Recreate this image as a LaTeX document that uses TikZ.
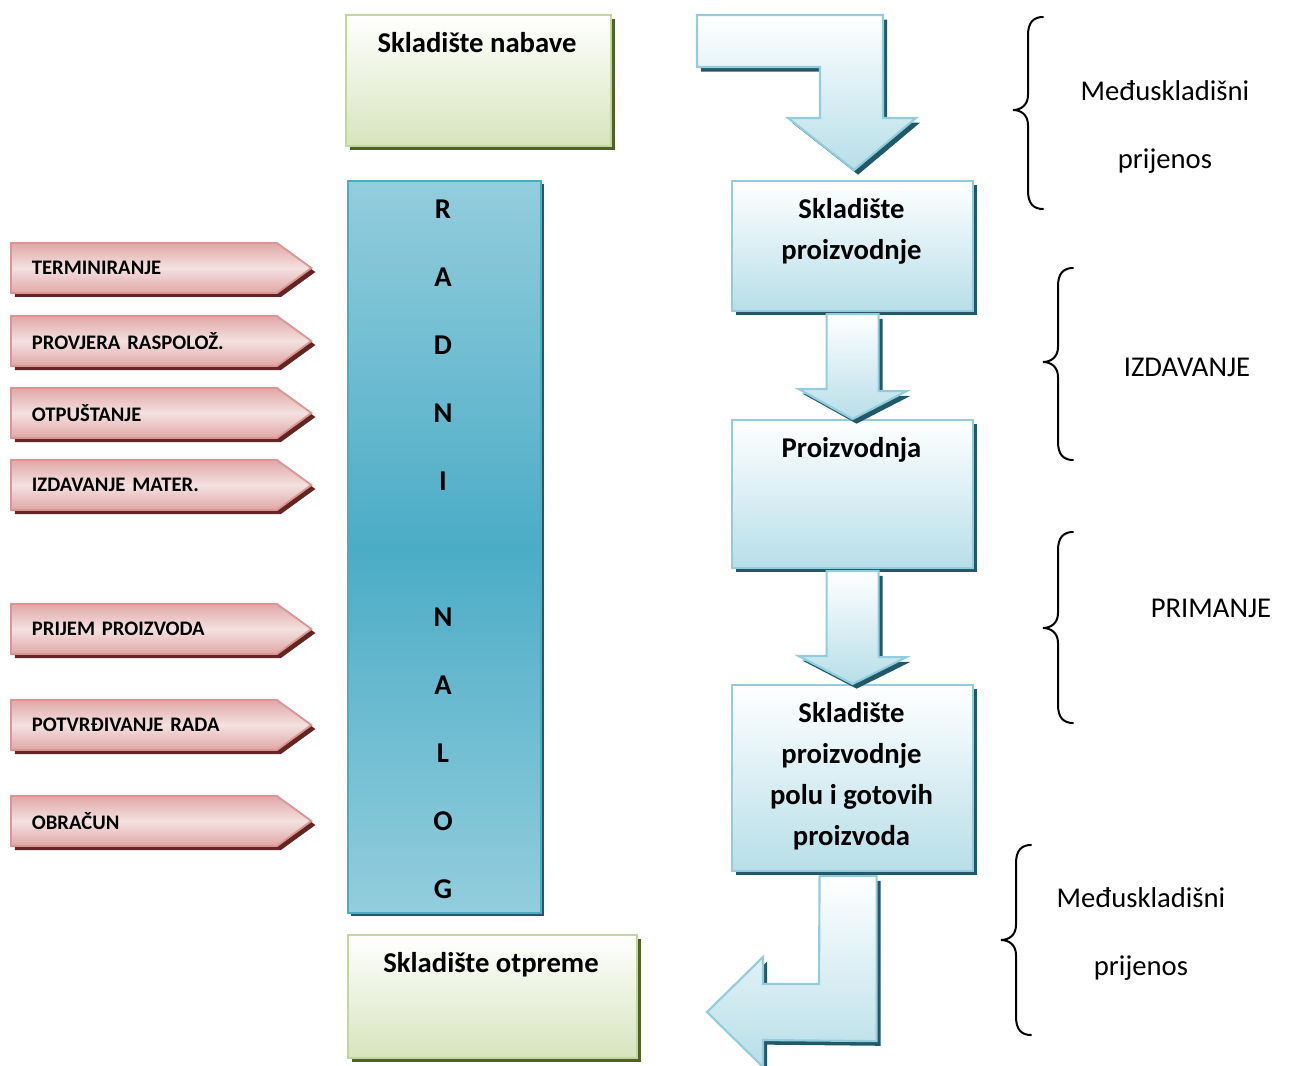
\documentclass[tikz,border=0pt]{standalone}
\usepackage{fontspec}
\setmainfont{Carlito}
\usetikzlibrary{shapes.symbols,shadows}
\definecolor{gborder}{HTML}{C3D69B}
\definecolor{gfill}{HTML}{D7E4BD}
\definecolor{gshadow}{HTML}{4F6228}
\definecolor{bborder}{HTML}{93CDDD}
\definecolor{bfill}{HTML}{B7DEE8}
\definecolor{bshadow}{HTML}{215968}
\definecolor{rnmid}{HTML}{4BACC6}
\definecolor{rntop}{HTML}{93CDDD}
\definecolor{pborder}{HTML}{D99694}
\definecolor{ptop}{HTML}{E0A7A6}
\definecolor{pmid}{HTML}{F4E1E0}
\definecolor{pshadow}{HTML}{632523}
\begin{document}
\begin{tikzpicture}[x=0.75pt,y=-0.75pt,
  greenbox/.style={draw=gborder, line width=1.6pt, top color=white, bottom color=gfill,
    general shadow={fill=gshadow, shadow xshift=3pt, shadow yshift=-3pt},
    anchor=north west, inner sep=0pt},
  bluebox/.style={draw=bborder, line width=1.6pt, top color=white, bottom color=bfill,
    general shadow={fill=bshadow, shadow xshift=3pt, shadow yshift=-3pt},
    anchor=north west, inner sep=0pt},
  rnbox/.style={draw=rnmid, line width=1.6pt, top color=rntop, bottom color=rntop, middle color=rnmid,
    general shadow={fill=bshadow, shadow xshift=2.5pt, shadow yshift=-2.5pt},
    anchor=north west, inner sep=0pt},
  blockarrow/.style={draw=bborder, line width=1.6pt, top color=white, bottom color=bfill,
    general shadow={fill=bshadow, shadow xshift=3pt, shadow yshift=-3.5pt}},
  pinkarrow/.style={shape=signal, signal to=east, signal from=nowhere, signal pointer angle=72,
    draw=pborder, line width=1.4pt, top color=ptop, bottom color=ptop, middle color=pmid,
    general shadow={fill=pshadow, shadow xshift=3pt, shadow yshift=-3pt},
    minimum height=37.5pt, inner xsep=15.75pt, inner ysep=0pt, text width=168pt, align=left,
    font=\fontsize{15.5}{18}\selectfont\bfseries, anchor=west},
  title/.style={font=\fontsize{21.5}{30.75}\selectfont\bfseries, inner sep=0pt, align=center},
  side/.style={font=\fontsize{21.5}{51}\selectfont, inner sep=0pt, align=center},
  brc/.style={line width=1.5pt, line cap=round}
]
\useasboundingbox (0,0) rectangle (1289,1066);

% left column boxes
\node[greenbox, minimum width=265*0.75pt, minimum height=131*0.75pt] (nab) at (345,14) {};
\node[title, anchor=base] (nabT) at (477,53) {Skladište nabave};

\node[rnbox, minimum width=193*0.75pt, minimum height=732*0.75pt] (rn) at (347,180) {};
\node[font=\fontsize{21.5}{51}\selectfont\bfseries, inner sep=0pt, align=center, anchor=north] (rnT) at (443,199.5)
  {R\\A\\D\\N\\I\\ \\N\\A\\L\\O\\G};

\node[greenbox, minimum width=289*0.75pt, minimum height=123*0.75pt] (otp) at (347,934) {};
\node[title, anchor=base] (otpT) at (491,972) {Skladište otpreme};

% right column boxes
\node[bluebox, minimum width=241*0.75pt, minimum height=130*0.75pt] (sp) at (731,180) {};
\node[title, anchor=north] (spT) at (851.5,198) {Skladište\\proizvodnje};

\node[bluebox, minimum width=241*0.75pt, minimum height=148*0.75pt] (pr) at (731,419) {};
\node[title, anchor=base] (prT) at (851.5,457) {Proizvodnja};

\node[bluebox, minimum width=241*0.75pt, minimum height=186*0.75pt] (sg) at (731,684) {};
\node[title, anchor=north] (sgT) at (851.5,702) {Skladište\\proizvodnje\\polu i gotovih\\proizvoda};

% block arrows
\shade[blockarrow] (697,15) -- (883,15) -- (883,118) -- (916,118) -- ([shift={(1.5,-10)}]sp.north) -- (788,118) -- (820,118) -- (820,67) -- (697,67) -- cycle;
\shade[blockarrow] ([shift={(-26,2)}]sp.south) -- ++(52,0) -- ++(0,77) -- ++(28,0) -- (pr.north) -- ++(-54,-30) -- ++(28,0) -- cycle;
\shade[blockarrow] ([shift={(-26,2)}]pr.south) -- ++(52,0) -- ++(0,86) -- ++(28,0) -- (sg.north) -- ++(-54,-28) -- ++(28,0) -- cycle;
\shade[blockarrow] ([shift={(-33,4)}]sg.south) -- ++(57,0) -- ++(0,165) -- (763,1040) -- (763,1067) -- (707,1012) -- (763,957) -- (763,984) -- (819,984) -- cycle;

% pink arrows
\node[pinkarrow] (p1) at (10,268) {TERMINIRANJE};
\node[pinkarrow] (p2) at (10,341) {PROVJERA RASPOLOŽ.};
\node[pinkarrow] (p3) at (10,413) {OTPUŠTANJE};
\node[pinkarrow] (p4) at (10,485) {IZDAVANJE MATER.};
\node[pinkarrow] (p5) at (10,629) {PRIJEM PROIZVODA};
\node[pinkarrow] (p6) at (10,725) {POTVRĐIVANJE RADA};
\node[pinkarrow] (p7) at (10,821) {OBRAČUN};

% braces
\foreach \xt/\yt/\ym/\yb in {1013/17/110/209, 1043/268/362/460, 1043/532/628/723, 1001/845/940/1035}{
  \draw[brc] ({\xt+30},\yt) .. controls ({\xt+21},\yt) and ({\xt+15},{\yt+5}) .. ({\xt+15},{\yt+18})
    -- ({\xt+15},{\ym-15}) .. controls ({\xt+15},{\ym-5}) and ({\xt+8},\ym) .. (\xt,\ym)
    .. controls ({\xt+8},\ym) and ({\xt+15},{\ym+5}) .. ({\xt+15},{\ym+15})
    -- ({\xt+15},{\yb-18}) .. controls ({\xt+15},{\yb-5}) and ({\xt+21},\yb) .. ({\xt+30},\yb);
}
\node[side, anchor=north] (m1) at (1165,80) {Međuskladišni\\prijenos};
\node[side, anchor=base] (izd) at (1187,377) {IZDAVANJE};
\node[side, anchor=base] (pri) at (1211,617) {PRIMANJE};
\node[side, anchor=north] (m2) at (1141,887) {Međuskladišni\\prijenos};
\end{tikzpicture}
\end{document}
